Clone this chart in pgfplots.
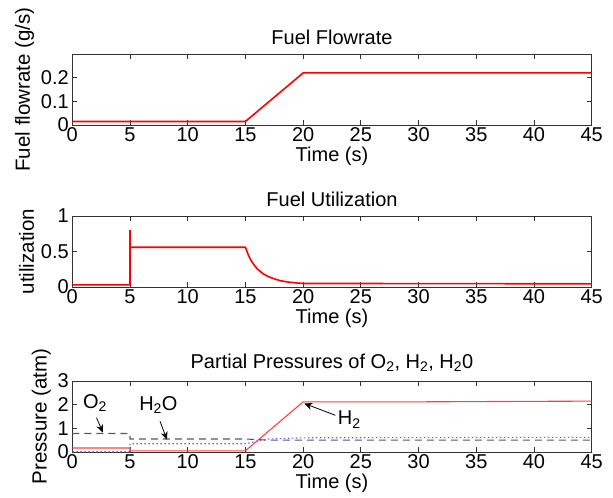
\documentclass[border=0pt]{standalone}
\usepackage{fontspec}
\setmainfont{Liberation Sans}
\usepackage{pgfplots}
\pgfplotsset{compat=1.18}
\usetikzlibrary{arrows.meta}
\begin{document}
\begin{tikzpicture}[font=\fontsize{20bp}{24bp}\selectfont]
\pgfplotsset{
  every axis/.append style={
    scale only axis, width=519.4bp, height=71bp,
    xmin=0, xmax=45, xtick={0,5,...,45},
    tick align=inside, major tick length=5bp,
    /pgf/number format/assume math mode=true,
    font=\fontsize{20bp}{24bp}\selectfont,
    axis line style={black!80, line width=0.9bp},
    tick style={black!80, line width=0.8bp},
    xticklabel style={yshift=1bp},
    xlabel={Time (s)},
    xlabel style={yshift=2bp},
    ylabel style={font=\fontsize{20.5bp}{24bp}\selectfont},
    clip=true,
  },
}
% ---------- Top: Fuel flowrate
\begin{axis}[at={(0,0)}, anchor=south west,
  ymin=0, ymax=0.3, ytick={0,0.1,0.2},
  yticklabel style={/pgf/number format/fixed},
  title={Fuel Flowrate}, ylabel={Fuel flowrate (g/s)}]
\addplot[red, line width=1.6bp] coordinates {(0,0.015) (15,0.015) (20,0.22) (45,0.22)};
\end{axis}
% ---------- Middle: Fuel utilization
\begin{axis}[at={(0,-162bp)}, anchor=south west,
  ymin=0, ymax=1, ytick={0,0.5,1},
  title={Fuel Utilization}, ylabel={utilization}]
\addplot[red, line width=1.6bp] coordinates {
 (0,0.03) (5,0.03) (5,0.8) (5,0.55) (5.1,0.56) (15,0.56)
 (15.25,0.45) (15.5,0.37) (15.75,0.31) (16,0.26) (16.5,0.19) (17,0.145)
 (17.5,0.115) (18,0.09) (18.5,0.075) (19,0.064) (19.5,0.056) (20,0.05) (45,0.045)};
\end{axis}
% ---------- Bottom: partial pressures
\begin{axis}[at={(0,-327bp)}, anchor=south west,
  ymin=0, ymax=3, ytick={0,1,2,3},
  title={Partial Pressures of O\textsubscript{2}, H\textsubscript{2}, H\textsubscript{2}0},
  ylabel={Pressure (atm)}]
\addplot[red!75, line width=1.1bp] coordinates {(0,0.17) (5,0.17) (5,0.05) (15,0.05) (20,2.12) (30,2.12) (45,2.15)};
\addplot[black!65, line width=1.1bp, dash pattern=on 7bp off 5bp] coordinates {(0,0.78) (5,0.78) (5,0.55) (15,0.55) (17,0.5) (45,0.5)};
\addplot[blue!60, line width=1.1bp, dash pattern=on 1.5bp off 2.5bp] coordinates {(0,0.01) (5,0.01) (5,0.35) (15,0.35) (17,0.55) (20,0.6) (45,0.62)};
\node at (axis cs:1.97,2.07) {O\textsubscript{2}};
\draw[-{Stealth[length=8bp,width=7bp]}, black, line width=0.8bp] (axis cs:2.1,1.45) -- (axis cs:2.65,0.82);
\node at (axis cs:7.46,2.0) {H\textsubscript{2}O};
\draw[-{Stealth[length=8bp,width=7bp]}, black, line width=0.8bp] (axis cs:7.6,1.3) -- (axis cs:8.2,0.52);
\node[anchor=west] at (axis cs:22.7,1.37) {H\textsubscript{2}};
\draw[-{Stealth[length=8bp,width=7bp]}, black, line width=0.8bp] (axis cs:22.8,1.55) -- (axis cs:20.1,2.05);
\end{axis}
\pgfresetboundingbox
\path[use as bounding box] (-72.3bp,125bp) rectangle (540.7bp,-373bp);
\end{tikzpicture}
\end{document}
